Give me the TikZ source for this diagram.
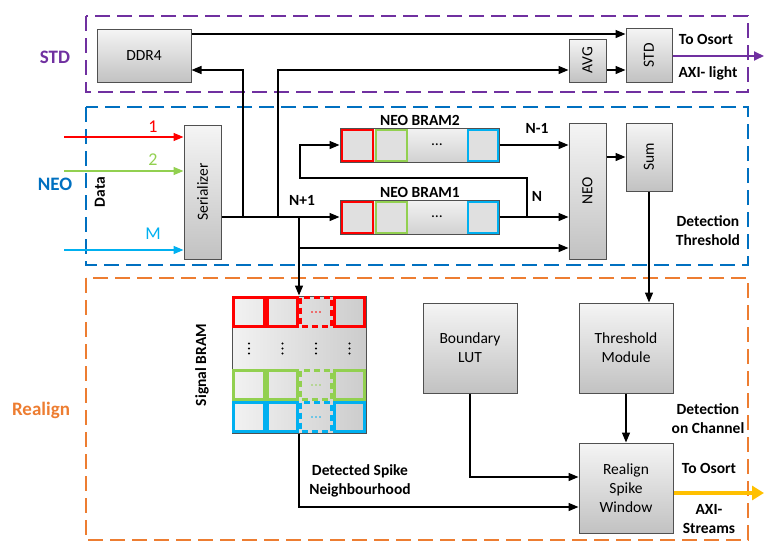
\documentclass[tikz,border=0pt]{standalone}
\usepackage{fontspec}
\setmainfont{Carlito}
\usetikzlibrary{arrows.meta,calc}
\definecolor{cRed}{HTML}{FF0000}
\definecolor{cGreen}{HTML}{92D050}
\definecolor{cCyan}{HTML}{00B0F0}
\definecolor{cPurple}{HTML}{7030A0}
\definecolor{cBlue}{HTML}{0070C0}
\definecolor{cOrange}{HTML}{ED7D31}
\definecolor{cYellow}{HTML}{FFC000}
\definecolor{cBorder}{HTML}{505050}
\begin{document}
\begin{tikzpicture}[x=1pt,y=-1pt,
  every node/.style={font=\fontsize{15.5}{19}\selectfont, inner sep=0pt},
  box/.style={draw=cBorder, line width=1pt, top color=black!4, bottom color=black!24, align=center},
  bram/.style={draw=cBorder, line width=1pt, top color=black!5, bottom color=black!18},
  bt/.style={font=\bfseries\fontsize{15.5}{19}\selectfont, align=center},
  grp/.style={line width=2.2pt, dash pattern=on 15pt off 7pt},
  grplabel/.style={font=\bfseries\fontsize{19}{22}\selectfont},
  inlabel/.style={font=\fontsize{18}{20}\selectfont},
  arr/.style={line width=1.4pt, -{Triangle[length=10pt,width=8pt]}},
  parr/.style={draw=cPurple, fill=cPurple, line width=1.8pt, -{Triangle[length=10pt,width=9pt]}},
  yarr/.style={draw=cYellow, fill=cYellow, line width=3.5pt, -{Triangle[length=12pt,width=14pt]}},
  cellDash/.style={dash pattern=on 6pt off 4pt}
]
\useasboundingbox (0,0) rectangle (764,541);

% group frames
\draw[grp, cPurple] (86,16) rectangle (748,92);
\draw[grp, cBlue] (86,107) rectangle (748,265);
\draw[grp, cOrange] (86,278) rectangle (748,540);
\node[grplabel, text=cPurple] (lstd) at (55,57) {STD};
\node[grplabel, text=cBlue] (lneo) at (55,184) {NEO};
\node[grplabel, text=cOrange] (lre) at (41,410) {Realign};

% blocks
\node[box, minimum width=94pt, minimum height=53pt] (ddr) at (144,55.5) {DDR4};
\node[box, minimum width=37pt, minimum height=43pt] (avg) at (587.5,60.5) {};
\node[rotate=90] (tavg) at (avg) {AVG};
\node[box, minimum width=46pt, minimum height=54pt] (std) at (649,55) {};
\node[rotate=90] (tstd) at (std) {STD};
\node[box, minimum width=37pt, minimum height=134pt] (ser) at (202.5,192) {};
\node[rotate=90] (tser) at (ser) {Serializer};
\node[box, minimum width=37pt, minimum height=136pt] (neo) at (587.5,191) {};
\node[rotate=90] (tneo) at (neo) {NEO};
\node[box, minimum width=46pt, minimum height=68pt] (sum) at (649,157) {};
\node[rotate=90] (tsum) at (sum) {Sum};
\node[box, minimum width=94pt, minimum height=90pt] (blut) at (470,348) {Boundary\\LUT};
\node[box, minimum width=94pt, minimum height=90pt] (thr) at (626,348) {Threshold\\Module};
\node[box, minimum width=94pt, minimum height=90pt] (rsw) at (626,488) {Realign\\Spike\\Window};

% NEO BRAMs
\node[bram, minimum width=159pt, minimum height=34pt] (bram2) at (419.5,145) {};
\node[bram, minimum width=159pt, minimum height=34pt] (bram1) at (419.5,217) {};
\foreach \yc in {145,217} {
  \foreach \xa/\xb/\c in {340/374/cRed, 374/408/cGreen, 466/499/cCyan} {
    \fill[black!12] (\xa+2.5,\yc-14.5) rectangle (\xb-2.5,\yc+14.5);
    \draw[draw=\c, line width=2pt] (\xa+1.5,\yc-15.5) rectangle (\xb-1.5,\yc+15.5);
  }
  \node (dots\yc) at (437,\yc) {\ldots};
}
\node[bt] (nb2) at (420,120) {NEO BRAM2};
\node[bt] (nb1) at (420,192) {NEO BRAM1};

% Signal BRAM
\node[draw=cBorder, line width=1pt, left color=black!5, right color=black!20, minimum width=134pt, minimum height=137pt] (sig) at (299,364.5) {};
\foreach \ya/\yb/\c in {296/328/cRed, 369/401/cGreen, 401/433/cCyan} {
  \foreach \xa/\xb/\st in {232/266/solid, 266/299/solid, 299/333/cellDash, 333/366/solid} {
    \draw[draw=\c, line width=2.6pt, \st] (\xa+1.6,\ya+1.6) rectangle (\xb-1.6,\yb-1.6);
  }
  \foreach \k in {-4,0,4} \fill[\c] (316+\k,{(\ya+\yb)/2}) circle (0.9);
}
\foreach \xc in {249,282.5,316,349.5} {
  \foreach \k in {-5,0,5} \fill[black] (\xc,348.5+\k) circle (1.1);
}
\node[bt, rotate=90] (lsig) at (202,365) {Signal BRAM};

% inputs
\coordinate (i1) at (64,137);
\coordinate (i2) at (64,171);
\coordinate (i3) at (64,250);
\draw[arr, cRed] (i1) -- (ser.west |- i1);
\draw[arr, cGreen] (i2) -- (ser.west |- i2);
\draw[arr, cCyan] (i3) -- (ser.west |- i3);
\node[inlabel, text=cRed] (l1) at (153,127) {1};
\node[inlabel, text=cGreen] (l2) at (153,160) {2};
\node[inlabel, text=cCyan] (l3) at (153,234) {M};
\node[bt, rotate=90] (ldata) at (100,192) {Data};

% connectors
\coordinate (yA) at (0,34);
\coordinate (yB) at (0,70);
\coordinate (j1) at (243,217);
\coordinate (j2) at (278,217);
\coordinate (j3) at (299,217);
\coordinate (j4) at (299,248);
\coordinate (k1) at (527,217);
\coordinate (k2) at (300,178);
\coordinate (yC) at (0,477);
\coordinate (yD) at (0,507);
\coordinate (o1) at (764,56);
\coordinate (o2) at (764,493);

\draw[arr] (ddr.east |- yA) -- (std.west |- yA);
\draw[arr] (j1) |- (ddr.east |- yB);
\draw[arr] (j2) |- (avg.west |- yB);
\draw[arr] (avg.east |- yB) -- (std.west |- yB);
\draw[arr] (ser.east |- bram1.west) -- (bram1.west);
\draw[arr] (j3) -- (sig.north);
\draw[arr] (j4) -- (neo.west |- j4);
\draw[arr] (bram2.east) -- (neo.west |- bram2.east);
\draw[arr] (bram1.east) -- (neo.west |- bram1.east);
\draw[arr] (k1) -- (k1 |- k2) -- (k2) |- (bram2.west);
\draw[arr] (neo.east |- sum.west) -- (sum.west);
\draw[arr] (sum.south) -- (sum.south |- thr.north);
\draw[arr] (thr.south) -- (rsw.north);
\draw[arr] (blut.south) |- (rsw.west |- yC);
\draw[arr] (sig.south) |- (rsw.west |- yD);
\draw[parr] (std.east |- o1) -- (o1);
\draw[yarr] (rsw.east |- o2) -- (o2);

% labels
\node[bt] (ln1) at (302,200) {N+1};
\node[bt] (lnm1) at (537,128) {N-1};
\node[bt] (ln) at (537,196) {N};
\node[bt] (lto1) at (706,39) {To Osort};
\node[bt] (laxi1) at (708,73) {AXI- light};
\node[bt] (ldt) at (708,231) {Detection\\Threshold};
\node[bt] (ldc) at (708,419) {Detection\\on Channel};
\node[bt] (lto2) at (709,468) {To Osort};
\node[bt] (laxi2) at (709,519) {AXI-\\Streams};
\node[bt] (lds) at (360,481) {Detected Spike\\Neighbourhood};
\end{tikzpicture}
\end{document}
